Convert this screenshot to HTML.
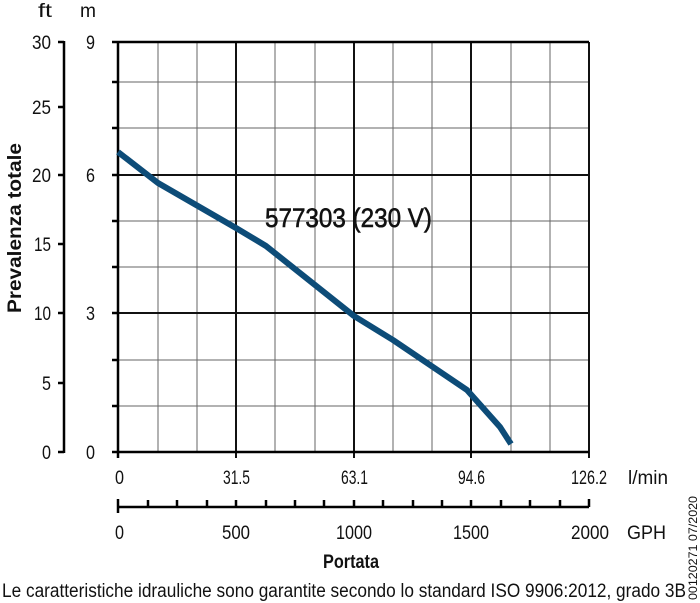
<!DOCTYPE html>
<html><head><meta charset="utf-8"><style>
html,body{margin:0;padding:0;background:#fff;}
svg{display:block;}
text{font-family:"Liberation Sans",sans-serif;fill:#111;}
</style></head><body>
<svg width="700" height="603" viewBox="0 0 700 603" xmlns="http://www.w3.org/2000/svg">
<g stroke="#666" stroke-width="1">
<line x1="158" y1="42" x2="158" y2="452"/><line x1="197" y1="42" x2="197" y2="452"/>
<line x1="275" y1="42" x2="275" y2="452"/><line x1="315" y1="42" x2="315" y2="452"/>
<line x1="393" y1="42" x2="393" y2="452"/><line x1="432" y1="42" x2="432" y2="452"/>
<line x1="511" y1="42" x2="511" y2="452"/><line x1="550" y1="42" x2="550" y2="452"/>
<line x1="118" y1="82" x2="589" y2="82"/><line x1="118" y1="128" x2="589" y2="128"/>
<line x1="118" y1="221" x2="589" y2="221"/><line x1="118" y1="267" x2="589" y2="267"/>
<line x1="118" y1="360" x2="589" y2="360"/><line x1="118" y1="406" x2="589" y2="406"/>
</g>
<g stroke="#111" stroke-width="2">
<line x1="236" y1="42" x2="236" y2="458"/><line x1="354" y1="42" x2="354" y2="458"/>
<line x1="471" y1="42" x2="471" y2="458"/><line x1="589" y1="42" x2="589" y2="458"/>
<line x1="118" y1="175" x2="589" y2="175"/><line x1="118" y1="313" x2="589" y2="313"/>
</g>
<g stroke="#000" stroke-width="2.5">
<line x1="118" y1="41" x2="118" y2="458"/>
<line x1="112" y1="42" x2="589" y2="42"/>
<line x1="112" y1="452" x2="589" y2="452"/>
<line x1="112" y1="175" x2="118" y2="175"/><line x1="112" y1="313" x2="118" y2="313"/>
<line x1="112" y1="82" x2="118" y2="82"/><line x1="112" y1="128" x2="118" y2="128"/>
<line x1="112" y1="221" x2="118" y2="221"/><line x1="112" y1="267" x2="118" y2="267"/>
<line x1="112" y1="360" x2="118" y2="360"/><line x1="112" y1="406" x2="118" y2="406"/>
<line x1="64" y1="41" x2="64" y2="453"/>
<line x1="58" y1="42" x2="64" y2="42"/><line x1="58" y1="107" x2="64" y2="107"/>
<line x1="58" y1="175" x2="64" y2="175"/><line x1="58" y1="244" x2="64" y2="244"/>
<line x1="58" y1="313" x2="64" y2="313"/><line x1="58" y1="383" x2="64" y2="383"/>
<line x1="58" y1="452" x2="64" y2="452"/>
<line x1="118" y1="507" x2="589" y2="507"/>
<line x1="118" y1="499" x2="118" y2="513"/><line x1="148" y1="500" x2="148" y2="507"/>
<line x1="177" y1="500" x2="177" y2="507"/><line x1="207" y1="500" x2="207" y2="507"/>
<line x1="236" y1="500" x2="236" y2="507"/><line x1="266" y1="500" x2="266" y2="507"/>
<line x1="295" y1="500" x2="295" y2="507"/><line x1="324" y1="500" x2="324" y2="507"/>
<line x1="354" y1="500" x2="354" y2="507"/><line x1="383" y1="500" x2="383" y2="507"/>
<line x1="413" y1="500" x2="413" y2="507"/><line x1="442" y1="500" x2="442" y2="507"/>
<line x1="471" y1="500" x2="471" y2="507"/><line x1="501" y1="500" x2="501" y2="507"/>
<line x1="530" y1="500" x2="530" y2="507"/><line x1="560" y1="500" x2="560" y2="507"/>
<line x1="589" y1="499" x2="589" y2="507"/>
</g>
<polyline fill="none" stroke="#0d4c78" stroke-width="6" stroke-linejoin="round" points="118,152 158,183 236,228 266,246 354,316 393,340 467,390 500,427 511,444"/>
<g font-size="19" text-anchor="end" lengthAdjust="spacingAndGlyphs">
<text x="51" y="49" textLength="19" lengthAdjust="spacingAndGlyphs">30</text>
<text x="51" y="114" textLength="19" lengthAdjust="spacingAndGlyphs">25</text>
<text x="51" y="182" textLength="19" lengthAdjust="spacingAndGlyphs">20</text>
<text x="51" y="251" textLength="17" lengthAdjust="spacingAndGlyphs">15</text>
<text x="51" y="320" textLength="17" lengthAdjust="spacingAndGlyphs">10</text>
<text x="51" y="390" textLength="9" lengthAdjust="spacingAndGlyphs">5</text>
<text x="51" y="459" textLength="9" lengthAdjust="spacingAndGlyphs">0</text>
<text x="95" y="49" textLength="9" lengthAdjust="spacingAndGlyphs">9</text>
<text x="95" y="182" textLength="9" lengthAdjust="spacingAndGlyphs">6</text>
<text x="95" y="320" textLength="9" lengthAdjust="spacingAndGlyphs">3</text>
<text x="95" y="459" textLength="9" lengthAdjust="spacingAndGlyphs">0</text>
</g>
<g font-size="19">
<text x="38" y="17" textLength="14" lengthAdjust="spacingAndGlyphs">ft</text>
<text x="80" y="17" textLength="16" lengthAdjust="spacingAndGlyphs">m</text>
<text x="115" y="484" textLength="9" lengthAdjust="spacingAndGlyphs">0</text>
<text x="223" y="484" textLength="27" lengthAdjust="spacingAndGlyphs">31.5</text>
<text x="341" y="484" textLength="27" lengthAdjust="spacingAndGlyphs">63.1</text>
<text x="458" y="484" textLength="27" lengthAdjust="spacingAndGlyphs">94.6</text>
<text x="571" y="484" textLength="36" lengthAdjust="spacingAndGlyphs">126.2</text>
<text x="628" y="484" textLength="40" lengthAdjust="spacingAndGlyphs">l/min</text>
<text x="115" y="539" textLength="9" lengthAdjust="spacingAndGlyphs">0</text>
<text x="222" y="539" textLength="28" lengthAdjust="spacingAndGlyphs">500</text>
<text x="336" y="539" textLength="36" lengthAdjust="spacingAndGlyphs">1000</text>
<text x="453" y="539" textLength="36" lengthAdjust="spacingAndGlyphs">1500</text>
<text x="571" y="539" textLength="38" lengthAdjust="spacingAndGlyphs">2000</text>
<text x="627" y="539" textLength="39" lengthAdjust="spacingAndGlyphs">GPH</text>
</g>
<text x="323" y="568" font-size="19" font-weight="bold" textLength="56" lengthAdjust="spacingAndGlyphs">Portata</text>
<text transform="translate(21,313) rotate(-90)" font-size="19" font-weight="bold" textLength="170" lengthAdjust="spacingAndGlyphs">Prevalenza totale</text>
<text x="265" y="227" font-size="27" stroke="#111" stroke-width="0.6" textLength="167" lengthAdjust="spacingAndGlyphs">577303 (230 V)</text>
<text x="2" y="597" font-size="19" textLength="684" lengthAdjust="spacingAndGlyphs">Le caratteristiche idrauliche sono garantite secondo lo standard ISO 9906:2012, grado 3B</text>
<text transform="translate(697,600) rotate(-90)" font-size="12" textLength="104" lengthAdjust="spacingAndGlyphs">00120271 07/2020</text>
</svg>
</body></html>
